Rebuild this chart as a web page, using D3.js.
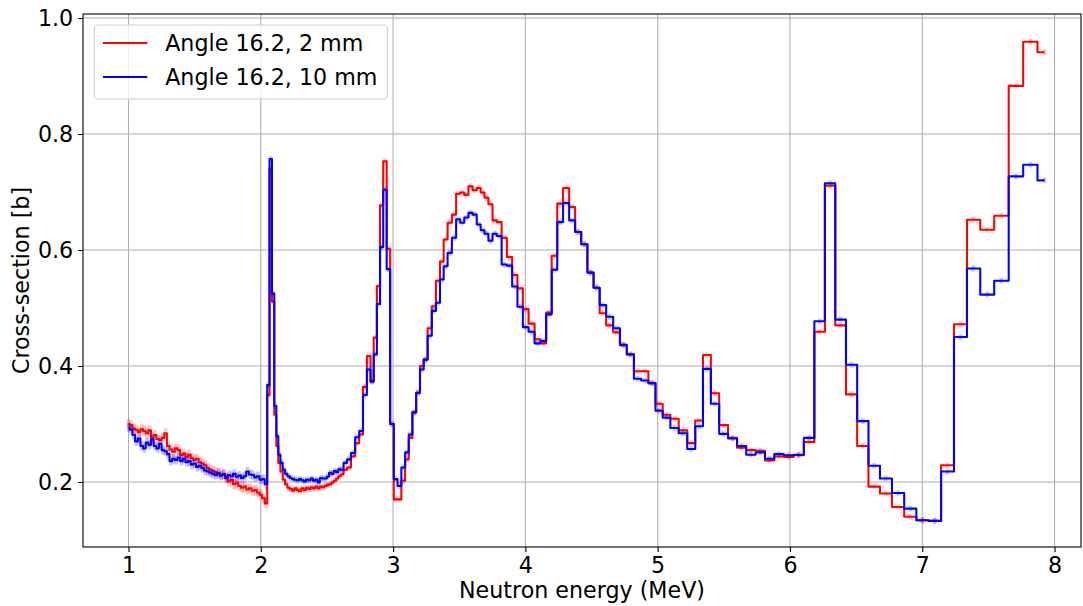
<!DOCTYPE html>
<html>
<head>
<meta charset="utf-8">
<script src="https://cdn.jsdelivr.net/npm/d3@7"></script>
<style>
  body { margin: 0; background: #fff; }
  svg { display: block; }
  text { font-family: "DejaVu Sans", sans-serif; }
</style>
</head>
<body>
<svg id="chart" width="1083" height="606"></svg>
<script>
// Bin-centre energies (MeV) shared by both measurements
const energy = [
  1.00,1.02,1.04,1.06,1.08,1.10,1.12,1.14,1.16,1.18,
  1.20,1.22,1.24,1.26,1.28,1.30,1.32,1.34,1.36,1.38,
  1.40,1.42,1.44,1.46,1.48,1.50,1.52,1.54,1.56,1.58,
  1.60,1.62,1.64,1.66,1.68,1.70,1.72,1.74,1.76,1.78,
  1.80,1.82,1.84,1.86,1.88,1.90,1.92,1.94,1.96,1.98,
  2.00,2.02,2.04,
  2.057,2.075,2.094,2.110,2.125,2.140,2.157,2.175,2.192,2.210,
  2.227,2.245,2.262,2.280,2.297,2.315,2.332,2.350,2.367,2.385,
  2.402,2.420,2.437,2.455,2.472,2.490,2.507,2.525,2.542,2.560,
  2.577,2.595,2.613,
  2.638,2.666,2.697,2.729,2.758,2.787,2.817,2.842,2.865,2.890,2.913,2.938,2.965,2.991,
  3.019,3.048,3.077,3.105,3.132,3.160,3.189,3.218,3.245,3.277,
  3.308,3.340,3.369,3.396,3.428,3.461,3.492,3.522,3.554,3.585,
  3.617,3.648,3.676,3.705,3.736,3.767,3.801,3.840,3.880,3.920,3.960,
  4.002,4.046,4.093,4.136,4.178,4.220,4.262,4.308,4.354,4.398,4.446,4.492,4.539,
  4.584,4.637,4.690,4.740,4.793,4.848,4.903,4.957,5.010,5.066,
  5.126,5.192,5.255,5.313,5.372,5.432,5.498,5.566,5.634,5.705,
  5.776,5.846,5.917,5.990,6.066,6.144,6.225,6.303,6.382,6.465,
  6.551,6.636,6.725,6.817,6.910,7.001,7.094,7.191,7.289,7.387,
  7.490,7.598,7.709,7.817,7.925
];

// Cross-section (b), 2 mm sample
const xs2mm = [
  0.300,0.298,0.292,0.290,0.286,0.291,0.288,0.284,0.289,0.276,
  0.281,0.274,0.272,0.276,0.284,0.262,0.256,0.252,0.258,0.255,
  0.246,0.249,0.243,0.247,0.241,0.238,0.240,0.234,0.232,0.229,
  0.224,0.221,0.219,0.217,0.215,0.212,0.214,0.206,0.201,0.204,
  0.196,0.199,0.193,0.190,0.192,0.187,0.189,0.185,0.186,0.182,
  0.178,0.172,0.163,
  0.350,0.740,0.511,0.316,0.262,0.233,0.218,0.204,0.196,0.190,
  0.188,0.185,0.189,0.186,0.184,0.189,0.186,0.190,0.188,0.191,
  0.189,0.192,0.189,0.192,0.191,0.193,0.195,0.196,0.199,0.202,
  0.206,0.210,0.213,
  0.221,0.225,0.244,0.267,0.282,0.364,0.417,0.374,0.449,0.538,0.677,0.753,0.602,0.300,
  0.170,0.170,0.202,0.239,0.276,0.320,0.354,0.400,0.411,0.465,
  0.503,0.547,0.580,0.618,0.647,0.661,0.697,0.699,0.695,0.710,
  0.703,0.707,0.699,0.690,0.679,0.651,0.648,0.621,0.588,0.557,0.534,
  0.498,0.473,0.446,0.439,0.492,0.590,0.680,0.707,0.674,0.631,0.610,0.561,0.535,
  0.491,0.470,0.458,0.437,0.420,0.391,0.391,0.371,0.335,0.316,
  0.309,0.289,0.267,0.306,0.419,0.353,0.298,0.276,0.259,0.255,
  0.254,0.237,0.244,0.243,0.246,0.269,0.459,0.711,0.470,0.351,
  0.262,0.192,0.180,0.157,0.140,0.134,0.133,0.229,0.472,0.652,
  0.635,0.659,0.883,0.959,0.941
];

// Cross-section (b), 10 mm sample
const xs10mm = [
  0.294,0.290,0.281,0.270,0.275,0.262,0.258,0.268,0.264,0.273,
  0.262,0.258,0.266,0.255,0.253,0.248,0.236,0.240,0.238,0.242,
  0.236,0.240,0.234,0.236,0.230,0.232,0.226,0.228,0.224,0.220,
  0.218,0.216,0.214,0.212,0.215,0.211,0.213,0.208,0.212,0.210,
  0.214,0.209,0.211,0.207,0.210,0.218,0.213,0.212,0.208,0.210,
  0.204,0.205,0.196,
  0.367,0.757,0.525,0.331,0.279,0.247,0.233,0.221,0.214,0.210,
  0.207,0.205,0.204,0.203,0.205,0.203,0.201,0.204,0.203,0.206,
  0.202,0.204,0.199,0.207,0.206,0.206,0.209,0.216,0.214,0.219,
  0.217,0.222,0.221,
  0.233,0.239,0.250,0.277,0.288,0.350,0.394,0.373,0.420,0.507,0.605,0.704,0.567,0.300,
  0.205,0.193,0.225,0.251,0.282,0.320,0.354,0.394,0.411,0.452,
  0.495,0.509,0.549,0.572,0.595,0.621,0.653,0.647,0.656,0.664,
  0.661,0.644,0.634,0.628,0.616,0.628,0.624,0.575,0.573,0.537,0.502,
  0.467,0.459,0.439,0.443,0.489,0.566,0.648,0.681,0.651,0.631,0.610,0.561,0.535,
  0.505,0.485,0.465,0.436,0.420,0.378,0.375,0.370,0.323,0.311,
  0.293,0.284,0.257,0.296,0.395,0.335,0.283,0.275,0.262,0.247,
  0.251,0.240,0.248,0.246,0.247,0.276,0.477,0.715,0.480,0.402,
  0.305,0.228,0.206,0.181,0.154,0.134,0.133,0.218,0.450,0.568,
  0.523,0.547,0.727,0.747,0.720
];

// Statistical uncertainty (b) in two energy bands: below / above 2.05 MeV
const uncBandEdges = [2.05];
const unc2mm = [0.009, 0.005];
const unc10mm = [0.008, 0.005];

const seriesNames = ["Angle 16.2, 2 mm", "Angle 16.2, 10 mm"];
const seriesColors = ["#ff0000", "#0000ff"];
const xTicks = [1, 2, 3, 4, 5, 6, 7, 8];
const yTicks = [0.2, 0.4, 0.6, 0.8, 1.0];
const xTitle = "Neutron energy (MeV)";
const yTitle = "Cross-section [b]";

// ---- layout ----
const W = 1083, H = 606;
const plot = { left: 83, right: 1081, top: 14, bottom: 547 };
const FONT = 22.2;

const x = d3.scaleLinear().domain([0.656, 8.2]).range([plot.left, plot.right]);
const y = d3.scaleLinear().domain([0.0879, 1.0069]).range([plot.bottom, plot.top]);

const svg = d3.select("#chart");

svg.append("defs").append("clipPath").attr("id", "plotClip")
  .append("rect")
  .attr("x", plot.left).attr("y", plot.top)
  .attr("width", plot.right - plot.left).attr("height", plot.bottom - plot.top);

// grid
const grid = svg.append("g").attr("stroke", "#b0b0b0").attr("stroke-width", 1.1);
grid.selectAll("line.vx").data(xTicks).join("line")
  .attr("x1", d => x(d)).attr("x2", d => x(d))
  .attr("y1", plot.top).attr("y2", plot.bottom);
grid.selectAll("line.hy").data(yTicks).join("line")
  .attr("x1", plot.left).attr("x2", plot.right)
  .attr("y1", d => y(d)).attr("y2", d => y(d));

// data
const series = [xs2mm, xs10mm].map((vals, i) => ({
  name: seriesNames[i],
  color: seriesColors[i],
  unc: i === 0 ? unc2mm : unc10mm,
  points: energy.map((e, j) => ({ e, v: vals[j] }))
}));

const dataG = svg.append("g").attr("clip-path", "url(#plotClip)");
const stepLine = d3.line().x(d => x(d.e)).y(d => y(d.v)).curve(d3.curveStep);

series.forEach(s => {
  // uncertainty bars at bin centres
  dataG.append("g")
    .attr("stroke", s.color).attr("stroke-opacity", 0.22).attr("stroke-width", 3.5)
    .selectAll("line").data(s.points).join("line")
    .attr("x1", d => x(d.e)).attr("x2", d => x(d.e))
    .attr("y1", d => y(d.v - s.unc[d3.bisectRight(uncBandEdges, d.e)]))
    .attr("y2", d => y(d.v + s.unc[d3.bisectRight(uncBandEdges, d.e)]));
  // step curve
  dataG.append("path")
    .datum(s.points)
    .attr("fill", "none")
    .attr("stroke", s.color)
    .attr("stroke-width", 2.08)
    .attr("stroke-linejoin", "round")
    .attr("d", stepLine);
});

// axes
const xAxis = svg.append("g")
  .attr("transform", `translate(0,${plot.bottom})`)
  .call(d3.axisBottom(x).tickValues(xTicks).tickFormat(d3.format("d"))
    .tickSize(4.9).tickPadding(4.9).tickSizeOuter(0));
const yAxis = svg.append("g")
  .attr("transform", `translate(${plot.left},0)`)
  .call(d3.axisLeft(y).tickValues(yTicks).tickFormat(d3.format(".1f"))
    .tickSize(4.9).tickPadding(4.9).tickSizeOuter(0));
[xAxis, yAxis].forEach(g => {
  g.select(".domain").remove();
  g.attr("font-family", null).attr("font-size", null);
  g.selectAll(".tick line").attr("stroke", "#000").attr("stroke-width", 1.1);
  g.selectAll(".tick text").attr("fill", "#000").style("font-size", FONT + "px");
});

// frame
svg.append("rect")
  .attr("x", plot.left).attr("y", plot.top)
  .attr("width", plot.right - plot.left).attr("height", plot.bottom - plot.top)
  .attr("fill", "none").attr("stroke", "#000").attr("stroke-width", 1.1);

// axis titles
svg.append("text")
  .attr("x", (plot.left + plot.right) / 2).attr("y", 598)
  .attr("text-anchor", "middle").style("font-size", FONT + "px").attr("fill", "#000")
  .text(xTitle);
svg.append("text")
  .attr("transform", `translate(29,${(plot.top + plot.bottom) / 2}) rotate(-90)`)
  .attr("text-anchor", "middle").style("font-size", FONT + "px").attr("fill", "#000")
  .text(yTitle);

// legend
const lg = svg.append("g");
lg.append("rect")
  .attr("x", 94.5).attr("y", 25).attr("width", 293).attr("height", 74)
  .attr("rx", 4).attr("ry", 4)
  .attr("fill", "#fff").attr("fill-opacity", 0.8)
  .attr("stroke", "#d0d0d0").attr("stroke-width", 1.1);
series.forEach((s, i) => {
  const cy = 43 + i * 34;
  lg.append("line")
    .attr("x1", 103).attr("x2", 147.4).attr("y1", cy).attr("y2", cy)
    .attr("stroke", s.color).attr("stroke-width", 2.08);
  lg.append("text")
    .attr("x", 165.2).attr("y", cy + 8)
    .style("font-size", FONT + "px").attr("fill", "#000")
    .text(s.name);
});
</script>
</body>
</html>
